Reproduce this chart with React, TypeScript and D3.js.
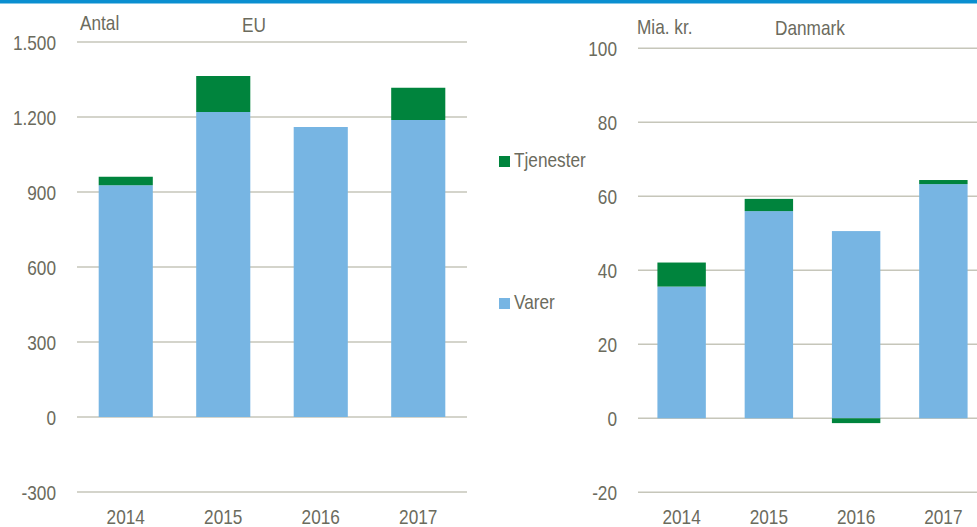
import React from "react";
import * as d3 from "d3";

const years = ["2014", "2015", "2016", "2017"];
const euVarer = [927, 1220, 1160, 1188];
const euTjenester = [34, 144, 0, 129];
const dkVarer = [35.6, 56, 50.6, 63.3];
const dkTjenester = [6.5, 3.3, -1.3, 1.1];
const euTicks = [-300, 0, 300, 600, 900, 1200, 1500];
const dkTicks = [-20, 0, 20, 40, 60, 80, 100];

const BLUE = "#77b5e3";
const GREEN = "#00843d";
const TEXT = "#6b6b5d";
const GRID = "#c6c6ba";
const FONT = "'Liberation Sans', Arial, sans-serif";
const SX = 0.82;
const FS = 21;

type NTProps = { x: number; y: number; anchor?: "start" | "middle" | "end"; dy?: string; children: React.ReactNode };
function NText({ x, y, anchor = "start", dy, children }: NTProps) {
  return (
    <text transform={`translate(${x},${y}) scale(${SX},1)`} dy={dy} textAnchor={anchor}
      fontSize={FS} fill={TEXT} fontFamily={FONT}>
      {children}
    </text>
  );
}

type PanelProps = {
  x0: number; x1: number; gridEnd: number;
  domain: [number, number]; yTop: number; yBottom: number;
  ticks: number[]; fmt: (v: number) => string;
  varer: number[]; tjen: number[];
  unit: string; unitX: number; unitY: number; title: string; titleX: number; titleY: number;
};

function Panel(p: PanelProps) {
  const x = d3.scaleBand<string>().domain(years).range([p.x0, p.x1]).paddingInner(0.445).paddingOuter(0.2225);
  const y = d3.scaleLinear().domain(p.domain).range([p.yBottom, p.yTop]);
  return (
    <g>
      {p.ticks.map((t) => (
        <g key={t}>
          <line x1={p.x0} x2={p.gridEnd} y1={y(t)} y2={y(t)} stroke={GRID} strokeWidth={1.5} />
          <NText x={p.x0 - 21} y={y(t)} dy="0.36em" anchor="end">{p.fmt(t)}</NText>
        </g>
      ))}
      {years.map((yr, i) => {
        const v = p.varer[i];
        const t = p.tjen[i];
        const bx = x(yr)!;
        const bw = x.bandwidth();
        const tTop = t >= 0 ? y(v + t) : y(0);
        const tBot = t >= 0 ? y(v) : y(t);
        return (
          <g key={yr}>
            <rect x={bx} width={bw} y={y(v)} height={y(0) - y(v)} fill={BLUE} />
            {t !== 0 && <rect x={bx} width={bw} y={tTop} height={tBot - tTop} fill={GREEN} />}
            <NText x={bx + bw / 2} y={524} anchor="middle">{yr}</NText>
          </g>
        );
      })}
      <NText x={p.unitX} y={p.unitY}>{p.unit}</NText>
      <NText x={p.titleX} y={p.titleY}>{p.title}</NText>
    </g>
  );
}

const fmtEu = (v: number) => (v < 0 ? "-" : "") + d3.format(",")(Math.abs(v)).replace(/,/g, ".");
const fmtPlain = (v: number) => String(v);

export default function App() {
  return (
    <svg width={977} height={527} style={{ position: "absolute", left: 0, top: 0, background: "#fff" }}>
      <rect x={0} y={0} width={977} height={3.5} fill="#0a8fd0" />
      <Panel x0={77} x1={467} gridEnd={467} domain={[-300, 1500]} yTop={42} yBottom={492}
        ticks={euTicks} fmt={fmtEu} varer={euVarer} tjen={euTjenester}
        unit="Antal" unitX={80} unitY={30} title="EU" titleX={242} titleY={32} />
      <Panel x0={638} x1={987} gridEnd={977} domain={[-20, 100]} yTop={48.3} yBottom={492.3}
        ticks={dkTicks} fmt={fmtPlain} varer={dkVarer} tjen={dkTjenester}
        unit="Mia. kr." unitX={637} unitY={34} title="Danmark" titleX={775} titleY={35} />
      <rect x={499} y={156} width={11} height={11} fill={GREEN} />
      <NText x={514} y={167}>Tjenester</NText>
      <rect x={499} y={298} width={11} height={11} fill={BLUE} />
      <NText x={514} y={309}>Varer</NText>
    </svg>
  );
}
